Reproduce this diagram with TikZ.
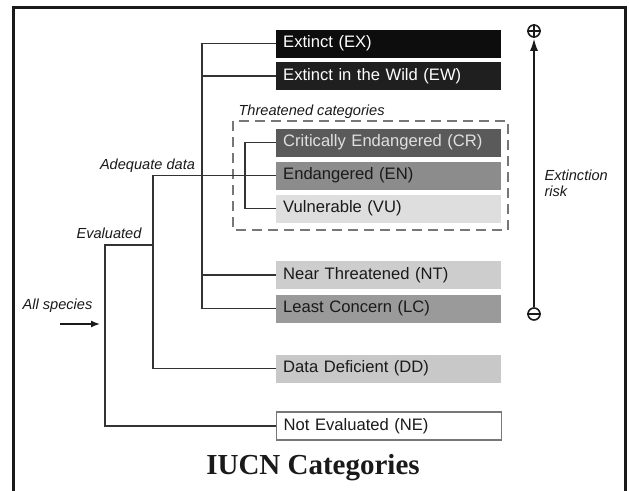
\documentclass[tikz,border=0pt]{standalone}
\usepackage{fontspec}
\setmainfont{Liberation Serif}
\setsansfont{Liberation Sans}
\usepackage{tikz}
\usetikzlibrary{arrows.meta,positioning}
\definecolor{ink}{HTML}{1A1A1A}
\definecolor{wire}{HTML}{333333}
\definecolor{ashex}{HTML}{0D0D0D}
\definecolor{ashew}{HTML}{1F1F1F}
\definecolor{ashcr}{HTML}{5A5A5A}
\definecolor{ashen}{HTML}{8C8C8C}
\definecolor{ashvu}{HTML}{DEDEDE}
\definecolor{ashnt}{HTML}{CDCDCD}
\definecolor{ashlc}{HTML}{9A9A9A}
\definecolor{ashdd}{HTML}{C8C8C8}
\definecolor{rim}{HTML}{777777}
\tikzset{
  cat/.style={rectangle, draw=none, anchor=west, align=left, text width=211pt, inner xsep=7pt,
              inner ysep=0pt, minimum height=28pt, font=\sffamily\fontsize{16.6}{18}\selectfont},
  darkcat/.style={cat, text=white},
  lightcat/.style={cat, text=ink},
  lbl/.style={font=\sffamily\itshape\fontsize{14.6}{16}\selectfont, text=ink, align=left},
  link/.style={draw=wire, line width=1.8pt},
  risk/.style={-{Latex[length=12pt,width=8pt]}, draw=ink, line width=1.4pt},
  sign/.style={circle, draw=ink, line width=1.6pt, minimum size=12pt, inner sep=0pt}
}
\begin{document}
\begin{tikzpicture}[x=1pt,y=-1pt]
  \useasboundingbox (0,0) rectangle (629,490);
  \fill[white] (0,0) rectangle (629,490);
  \draw[draw=ink, line width=3pt] (13,7) rectangle (625,520);

  \node[darkcat, fill=ashex] (EX) at (276,43.5) {Extinct (EX)};
  \node[darkcat, fill=ashew] (EW) at (276,76) {Extinct in the Wild (EW)};
  \node[darkcat, fill=ashcr, text=white!88!black] (CR) at (276,142.5) {Critically Endangered (CR)};
  \node[lightcat, fill=ashen] (EN) at (276,175.5) {Endangered (EN)};
  \node[lightcat, fill=ashvu] (VU) at (276,208.5) {Vulnerable (VU)};
  \node[lightcat, fill=ashnt] (NT) at (276,275) {Near Threatened (NT)};
  \node[lightcat, fill=ashlc] (LC) at (276,308.5) {Least Concern (LC)};
  \node[lightcat, fill=ashdd] (DD) at (276,368.5) {Data Deficient (DD)};
  \node[lightcat, fill=white, draw=rim, line width=1.4pt] (NE) at (276,426) {Not Evaluated (NE)};

  \draw[draw=rim, line width=1.5pt, dash pattern=on 10pt off 6pt] (233,121) rectangle (508,230);
  \node[lbl, anchor=west] (thrlbl) at (235,112) {Threatened categories};

  \coordinate (adq) at (202,0);
  \coordinate (thr) at (245,0);
  \coordinate (evl) at (153,0);
  \coordinate (all) at (105,245);
  \draw[link] (EX.west) -- (EX.west -| adq) -- (LC.west -| adq) -- (LC.west);
  \draw[link] (EW.west) -- (EW.west -| adq);
  \draw[link] (NT.west) -- (NT.west -| adq);
  \draw[link] (CR.west) -- (CR.west -| thr) -- (VU.west -| thr) -- (VU.west);
  \draw[link] (EN.west) -- (EN.west -| evl) -- (DD.west -| evl) -- (DD.west);
  \draw[link] (all -| evl) -- (all) -- (NE.west -| all) -- (NE.west);

  \node[lbl] (adqlbl) at (147.5,166) {Adequate data};
  \node[lbl] (evllbl) at (109,233) {Evaluated};
  \node[lbl] (alllbl) at (57.5,306) {All species};
  \coordinate (entry) at (100,324);
  \draw[-{Latex[length=9pt,width=7pt]}, draw=ink, line width=1.4pt] (entry) ++(-40,0) -- (entry);

  \node[sign] (more) at (534,31) {};
  \node[sign] (less) at (534,314) {};
  \draw[draw=ink, line width=1.6pt] (more.north) -- (more.south) (more.west) -- (more.east);
  \draw[draw=ink, line width=1.6pt] (less.west) -- (less.east);
  \draw[risk] (less.north) -- ([yshift=-1pt]more.south);
  \node[lbl, anchor=west] (risklbl) at (541,183) {Extinction\\risk};

  \node[font=\bfseries\fontsize{29}{32}\selectfont, text=ink] (title) at (313,468) {IUCN Categories};
\end{tikzpicture}
\end{document}
